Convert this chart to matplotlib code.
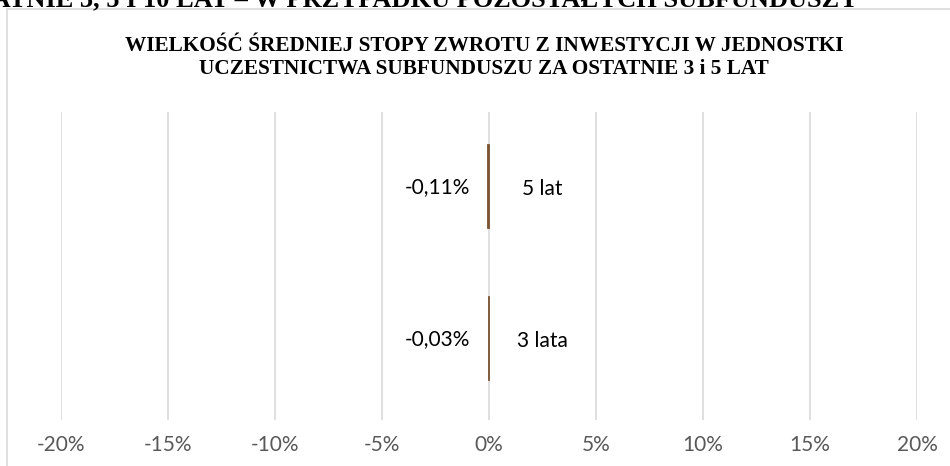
import matplotlib.pyplot as plt
from matplotlib.patches import Rectangle

# Data (percent)
categories = ["3 lata", "5 lat"]
values = [-0.03, -0.11]
value_labels = ["-0,03%", "-0,11%"]
ticks = [-20, -15, -10, -5, 0, 5, 10, 15, 20]

title = ("WIELKOŚĆ ŚREDNIEJ STOPY ZWROTU Z INWESTYCJI W JEDNOSTKI\n"
         "UCZESTNICTWA SUBFUNDUSZU ZA OSTATNIE 3 i 5 LAT")
header = "OSTATNIE 3, 5 I 10 LAT – W PRZYPADKU POZOSTAŁYCH SUBFUNDUSZY"

W, H = 950, 466
fig = plt.figure(figsize=(W / 100, H / 100), dpi=100)

# chart frame (light grey border)
fig.patches.append(Rectangle((7 / W, -0.1), 1.1, 1 - 9 / H + 0.1, transform=fig.transFigure,
                             fill=False, edgecolor="#d9d9d9", linewidth=1.2))

# cropped document header above the chart
fig.text(858 / W, 1 - 6 / H, header, ha="right", va="baseline", fontsize=19,
         fontweight="bold", family="Liberation Serif", color="black")

ax = fig.add_axes([61 / W, 1 - 420 / H, (917 - 61) / W, (420 - 112) / H])
ax.barh(range(len(categories)), values, height=0.55, color="#7b5434",
        edgecolor="#7b5434", linewidth=0.6)
ax.set_xlim(-20, 20)
ax.set_ylim(-0.54, 1.487)
ax.set_xticks(ticks)
ax.set_xticklabels([f"{t}%" for t in ticks], fontsize=15, color="#595959", family="Lato")
ax.tick_params(axis="x", length=0, pad=11)
ax.set_yticks([])
ax.grid(axis="x", color="#d9d9d9", linewidth=1.2)
ax.set_axisbelow(True)
for s in ax.spines.values():
    s.set_visible(False)

for i, (cat, lab) in enumerate(zip(categories, value_labels)):
    ax.annotate(lab, (0, i), xytext=(-37, -1), textcoords="offset points", ha="center",
                va="center", fontsize=15, family="Lato", color="black")
    ax.annotate(cat, (0, i), xytext=(38.5, -2), textcoords="offset points",
                ha="center", va="center", fontsize=15, family="Lato", color="black")

fig.text(484 / W, 1 - 57.5 / H, title, ha="center", va="center", fontsize=15.3,
         fontweight="bold", family="Liberation Serif", linespacing=1.2)

fig.savefig("out.png", dpi=100)
